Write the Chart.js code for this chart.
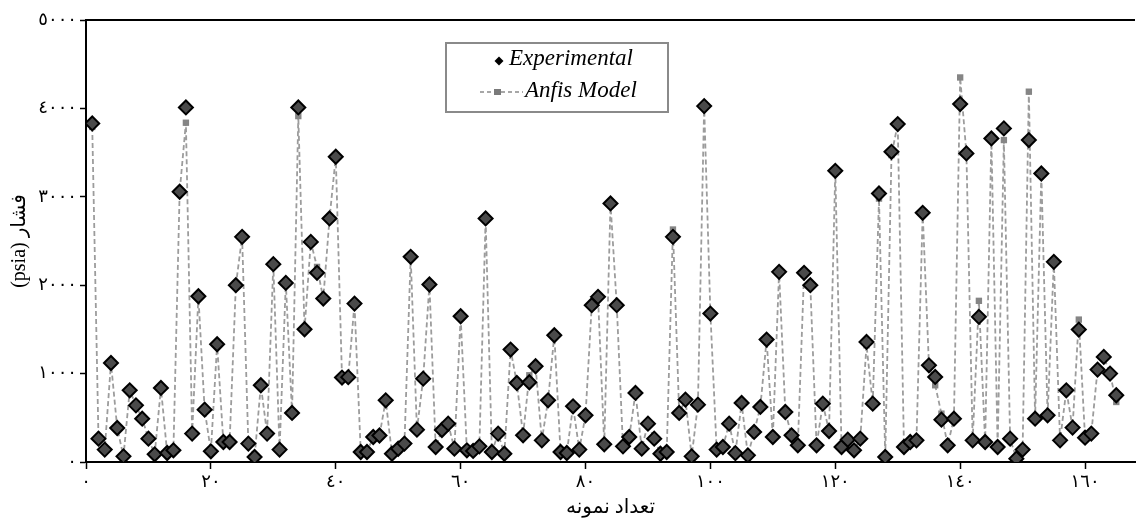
<!DOCTYPE html>
<html>
<head>
<meta charset="utf-8">
<script src="https://cdn.jsdelivr.net/npm/chart.js@4.4.0/dist/chart.umd.min.js"></script>
<style>
  html, body { margin: 0; padding: 0; background: #fff; }
</style>
</head>
<body>
<canvas id="chart" width="1137" height="524"></canvas>
<script>
// pressure (psia), sample 1..165
const experimental = [
  3830, 264, 140, 1120, 385, 64, 811, 641, 490, 264,
  87, 838, 102, 132, 3057, 4011, 321, 1875, 592, 121,
  1332, 226, 226, 2000, 2547, 208, 57, 868, 321, 2238,
  140, 2026, 555, 4011, 1502, 2490, 2140, 1849, 2755, 3453,
  955, 960, 1792, 113, 113, 283, 300, 698, 94, 150,
  208, 2321, 366, 943, 2008, 170, 362, 434, 151, 1649,
  132, 125, 177, 2755, 113, 321, 94, 1272, 894, 302,
  902, 1083, 245, 698, 1434, 113, 102, 630, 140, 528,
  1774, 1868, 200, 2925, 1774, 177, 283, 781, 151, 434,
  264, 94, 113, 2547, 555, 706, 64, 649, 4026, 1679,
  140, 170, 434, 100, 668, 75, 340, 623, 1385, 283,
  2151, 566, 302, 189, 2140, 2000, 189, 660, 351, 3294,
  170, 253, 132, 264, 1358, 660, 3037, 57, 3509, 3823,
  170, 226, 245, 2819, 1094, 962, 479, 189, 490, 4049,
  3491, 245, 1642, 226, 3660, 170, 3774, 264, 38, 140,
  3642, 490, 3264, 528, 2264, 245, 811, 389, 1498, 275,
  321, 1045, 1189, 1000, 755
];

const anfisModel = [
  3790, 264, 140, 1120, 385, 64, 811, 641, 490, 264,
  87, 838, 102, 132, 3057, 3838, 321, 1875, 592, 121,
  1332, 226, 226, 2000, 2547, 208, 57, 868, 321, 2238,
  140, 2026, 555, 3913, 1502, 2490, 2207, 1849, 2755, 3453,
  955, 960, 1792, 113, 113, 283, 300, 698, 94, 150,
  208, 2321, 366, 943, 2008, 170, 362, 434, 151, 1649,
  132, 125, 177, 2755, 113, 321, 94, 1272, 894, 302,
  981, 1083, 245, 698, 1434, 113, 102, 630, 140, 528,
  1774, 1868, 200, 2925, 1774, 177, 283, 781, 151, 434,
  264, 94, 113, 2630, 555, 706, 64, 649, 4026, 1679,
  140, 170, 434, 100, 668, 75, 340, 623, 1385, 283,
  2151, 566, 302, 189, 2140, 2000, 189, 660, 351, 3294,
  170, 253, 132, 264, 1320, 660, 2980, 57, 3472, 3823,
  170, 226, 245, 2819, 1094, 868, 547, 189, 490, 4350,
  3491, 245, 1823, 226, 3660, 170, 3642, 264, 38, 140,
  4189, 490, 3264, 528, 2264, 245, 811, 389, 1611, 275,
  321, 1045, 1189, 1000, 679
];

const sampleNo = experimental.map((v, i) => i + 1);

const xTickValues = [0, 20, 40, 60, 80, 100, 120, 140, 160];
const xTickLabels = ['٠', '٢٠', '٤٠', '٦٠', '٨٠', '١٠٠', '١٢٠', '١٤٠', '١٦٠'];
const yTickValues = [0, 1000, 2000, 3000, 4000, 5000];
const yTickLabels = ['٠', '١٠٠٠', '٢٠٠٠', '٣٠٠٠', '٤٠٠٠', '٥٠٠٠'];

const xTitle = 'تعداد نمونه';
const yTitle = '(psia) فشار';
const legendNames = ['Experimental', 'Anfis Model'];

const tickFont = { family: "'Liberation Serif', 'DejaVu Sans', serif", size: 18 };
const titleFont = { family: "'Liberation Serif', 'DejaVu Sans', serif", size: 20 };

// top frame line + boxed legend inside the plot
const framePlugin = {
  id: 'frame',
  afterDraw(chart) {
    const ctx = chart.ctx;
    const a = chart.chartArea;
    ctx.save();
    ctx.strokeStyle = '#000';
    ctx.lineWidth = 2;
    ctx.beginPath();
    ctx.moveTo(a.left, a.top);
    ctx.lineTo(a.right, a.top);
    ctx.stroke();

    // legend box
    ctx.strokeStyle = '#8a8a8a';
    ctx.lineWidth = 2;
    ctx.strokeRect(446, 43, 222, 69);

    // experimental marker
    ctx.fillStyle = '#000';
    ctx.beginPath();
    ctx.moveTo(499, 56.5);
    ctx.lineTo(503.5, 61);
    ctx.lineTo(499, 65.5);
    ctx.lineTo(494.5, 61);
    ctx.closePath();
    ctx.fill();

    // model marker
    ctx.strokeStyle = '#8a8a8a';
    ctx.lineWidth = 1.5;
    ctx.setLineDash([4, 3]);
    ctx.beginPath();
    ctx.moveTo(480, 92);
    ctx.lineTo(523, 92);
    ctx.stroke();
    ctx.setLineDash([]);
    ctx.fillStyle = '#7a7a7a';
    ctx.fillRect(494, 89, 7, 6);

    ctx.fillStyle = '#000';
    ctx.font = "italic 23px 'Liberation Serif', serif";
    ctx.textBaseline = 'alphabetic';
    ctx.fillText(legendNames[0], 509, 65);
    ctx.fillText(legendNames[1], 525, 97);
    ctx.restore();
  }
};

new Chart(document.getElementById('chart').getContext('2d'), {
  type: 'line',
  data: {
    labels: sampleNo,
    datasets: [
      {
        label: legendNames[0],
        data: experimental,
        showLine: false,
        pointStyle: 'rectRot',
        pointRadius: 7,
        pointBackgroundColor: '#4a4a4a',
        pointBorderColor: '#000',
        pointBorderWidth: 2
      },
      {
        label: legendNames[1],
        data: anfisModel,
        borderColor: '#9c9c9c',
        borderWidth: 1.8,
        borderDash: [5, 3],
        tension: 0,
        pointStyle: 'rect',
        pointRadius: 4.5,
        pointBackgroundColor: '#858585',
        pointBorderWidth: 0
      }
    ]
  },
  options: {
    responsive: false,
    animation: false,
    devicePixelRatio: 1,
    layout: { autoPadding: false, padding: { top: 20, right: 2, left: 0, bottom: 0 } },
    plugins: {
      legend: { display: false },
      tooltip: { enabled: false }
    },
    scales: {
      x: {
        type: 'linear',
        min: 0,
        max: 168,
        afterBuildTicks: s => { s.ticks = xTickValues.map(v => ({ value: v })); },
        afterFit: s => { s.height = 62; s.paddingRight = 0; },
        grid: { drawOnChartArea: false, color: '#000', tickLength: 7, tickWidth: 1.5 },
        border: { color: '#000', width: 2 },
        ticks: {
          color: '#000',
          font: tickFont,
          padding: 2,
          maxRotation: 0,
          callback: v => xTickLabels[xTickValues.indexOf(v)]
        },
        title: { display: true, text: xTitle, color: '#000', font: titleFont, padding: { top: 0, bottom: 4 } }
      },
      y: {
        min: 0,
        max: 5000,
        afterBuildTicks: s => { s.ticks = yTickValues.map(v => ({ value: v })); },
        afterFit: s => { s.width = 86; },
        grid: { drawOnChartArea: false, color: '#000', tickLength: 6, tickWidth: 1.5 },
        border: { color: '#000', width: 2 },
        ticks: {
          color: '#000',
          font: tickFont,
          padding: 3,
          callback: v => yTickLabels[yTickValues.indexOf(v)]
        },
        title: { display: true, text: yTitle, color: '#000', font: titleFont, padding: { top: 8, bottom: 0 } }
      }
    }
  },
  plugins: [framePlugin]
});
</script>
</body>
</html>
